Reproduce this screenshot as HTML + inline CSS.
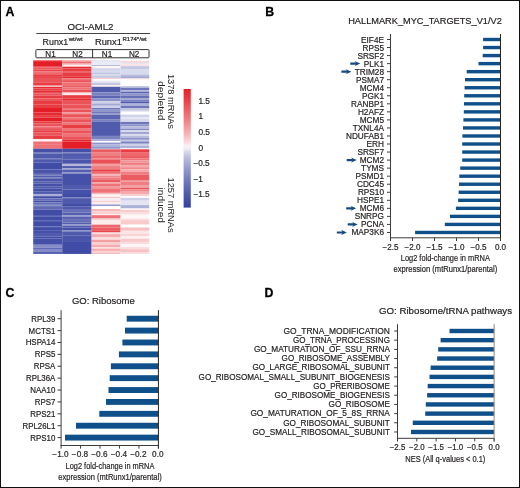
<!DOCTYPE html>
<html><head><meta charset="utf-8"><style>
html,body{margin:0;padding:0;background:#fff;}
body{width:520px;height:488px;overflow:hidden;}
svg{display:block;font-family:"Liberation Sans",sans-serif;will-change:transform;}
</style></head><body>
<svg width="520" height="488" viewBox="0 0 520 488">
<rect x="0" y="0" width="520" height="488" fill="#fff"/>
<text x="5.60" y="15.70" font-size="12.3" text-anchor="start" font-weight="bold" fill="#000" stroke="#000" stroke-width="0.3">A</text>
<text x="90.50" y="29.80" font-size="9.9" text-anchor="middle" font-weight="normal" fill="#231f20" stroke="#231f20" stroke-width="0.2" textLength="46.00" lengthAdjust="spacingAndGlyphs">OCI-AML2</text>
<line x1="36.30" y1="33.50" x2="150.20" y2="33.50" stroke="#444" stroke-width="1"/>
<text x="42.60" y="44.80" font-size="9.9" text-anchor="start" font-weight="normal" fill="#231f20" stroke="#231f20" stroke-width="0.2" textLength="25.60" lengthAdjust="spacingAndGlyphs">Runx1</text>
<text x="68.70" y="41.40" font-size="5.2" text-anchor="start" font-weight="normal" fill="#231f20" stroke="#231f20" stroke-width="0.2" textLength="14.00" lengthAdjust="spacingAndGlyphs">wt/wt</text>
<text x="94.90" y="44.80" font-size="9.9" text-anchor="start" font-weight="normal" fill="#231f20" stroke="#231f20" stroke-width="0.2" textLength="27.00" lengthAdjust="spacingAndGlyphs">Runx1</text>
<text x="122.50" y="41.40" font-size="5.2" text-anchor="start" font-weight="normal" fill="#231f20" stroke="#231f20" stroke-width="0.2" textLength="24.30" lengthAdjust="spacingAndGlyphs">R174*/wt</text>
<rect x="35.9" y="49.6" width="113.1" height="8.2" rx="0.8" fill="none" stroke="#333" stroke-width="1"/>
<line x1="92.60" y1="49.60" x2="92.60" y2="57.80" stroke="#333" stroke-width="1"/>
<text x="50.50" y="57.10" font-size="8.6" text-anchor="middle" font-weight="normal" fill="#231f20" stroke="#231f20" stroke-width="0.2" textLength="10.44" lengthAdjust="spacingAndGlyphs">N1</text>
<text x="77.50" y="57.10" font-size="8.6" text-anchor="middle" font-weight="normal" fill="#231f20" stroke="#231f20" stroke-width="0.2" textLength="10.44" lengthAdjust="spacingAndGlyphs">N2</text>
<text x="107.00" y="57.10" font-size="8.6" text-anchor="middle" font-weight="normal" fill="#231f20" stroke="#231f20" stroke-width="0.2" textLength="10.44" lengthAdjust="spacingAndGlyphs">N1</text>
<text x="134.20" y="57.10" font-size="8.6" text-anchor="middle" font-weight="normal" fill="#231f20" stroke="#231f20" stroke-width="0.2" textLength="10.44" lengthAdjust="spacingAndGlyphs">N2</text>
<rect x="33.20" y="60.30" width="29.00" height="0.84" fill="#e83c43"/>
<rect x="33.20" y="61.12" width="29.00" height="5.04" fill="#e41e26"/>
<rect x="33.20" y="66.14" width="29.00" height="1.14" fill="#e83c43"/>
<rect x="33.20" y="67.26" width="29.00" height="1.69" fill="#ea5359"/>
<rect x="33.20" y="68.93" width="29.00" height="1.14" fill="#ee7176"/>
<rect x="33.20" y="70.05" width="29.00" height="1.14" fill="#e83c43"/>
<rect x="33.20" y="71.16" width="29.00" height="2.25" fill="#ee7176"/>
<rect x="33.20" y="73.40" width="29.00" height="1.14" fill="#e52a31"/>
<rect x="33.20" y="74.51" width="29.00" height="1.69" fill="#e83c43"/>
<rect x="33.20" y="76.19" width="29.00" height="1.69" fill="#e52a31"/>
<rect x="33.20" y="77.86" width="29.00" height="4.49" fill="#ea5359"/>
<rect x="33.20" y="82.33" width="29.00" height="1.69" fill="#e83c43"/>
<rect x="33.20" y="84.00" width="29.00" height="1.69" fill="#e83c43"/>
<rect x="33.20" y="85.67" width="29.00" height="1.14" fill="#fbdbdd"/>
<rect x="33.20" y="86.79" width="29.00" height="1.69" fill="#e52a31"/>
<rect x="33.20" y="88.47" width="29.00" height="2.25" fill="#e83c43"/>
<rect x="33.20" y="90.70" width="29.00" height="1.69" fill="#e52a31"/>
<rect x="33.20" y="92.37" width="29.00" height="1.14" fill="#e41e26"/>
<rect x="33.20" y="93.49" width="29.00" height="2.25" fill="#ea5359"/>
<rect x="33.20" y="95.72" width="29.00" height="2.81" fill="#e83c43"/>
<rect x="33.20" y="98.51" width="29.00" height="1.69" fill="#ea5359"/>
<rect x="33.20" y="100.19" width="29.00" height="4.49" fill="#e83c43"/>
<rect x="33.20" y="104.65" width="29.00" height="3.37" fill="#e83c43"/>
<rect x="33.20" y="108.00" width="29.00" height="4.49" fill="#e41e26"/>
<rect x="33.20" y="112.47" width="29.00" height="3.37" fill="#e52a31"/>
<rect x="33.20" y="115.81" width="29.00" height="1.69" fill="#e83c43"/>
<rect x="33.20" y="117.49" width="29.00" height="3.93" fill="#e41e26"/>
<rect x="33.20" y="121.40" width="29.00" height="2.25" fill="#e83c43"/>
<rect x="33.20" y="123.63" width="29.00" height="2.81" fill="#ea5359"/>
<rect x="33.20" y="126.42" width="29.00" height="1.69" fill="#ee7176"/>
<rect x="33.20" y="128.09" width="29.00" height="2.81" fill="#ea5359"/>
<rect x="33.20" y="130.88" width="29.00" height="1.69" fill="#e83c43"/>
<rect x="33.20" y="132.56" width="29.00" height="2.81" fill="#ea5359"/>
<rect x="33.20" y="135.35" width="29.00" height="2.81" fill="#e83c43"/>
<rect x="33.20" y="138.14" width="29.00" height="1.14" fill="#e52a31"/>
<rect x="33.20" y="139.26" width="29.00" height="2.25" fill="#fef3f4"/>
<rect x="33.20" y="141.49" width="29.00" height="3.37" fill="#ee7176"/>
<rect x="33.20" y="144.84" width="29.00" height="3.93" fill="#ee7176"/>
<rect x="33.20" y="148.74" width="29.00" height="3.37" fill="#4550a8"/>
<rect x="33.20" y="152.09" width="29.00" height="1.69" fill="#6d76bb"/>
<rect x="33.20" y="153.77" width="29.00" height="2.25" fill="#4f5aad"/>
<rect x="33.20" y="156.00" width="29.00" height="2.25" fill="#4f5aad"/>
<rect x="33.20" y="158.23" width="29.00" height="1.69" fill="#6069b5"/>
<rect x="33.20" y="159.91" width="29.00" height="2.81" fill="#4f5aad"/>
<rect x="33.20" y="162.70" width="29.00" height="6.72" fill="#414ca6"/>
<rect x="33.20" y="169.40" width="29.00" height="4.49" fill="#4a55aa"/>
<rect x="33.20" y="173.86" width="29.00" height="1.69" fill="#6d76bb"/>
<rect x="33.20" y="175.53" width="29.00" height="1.69" fill="#4f5aad"/>
<rect x="33.20" y="177.21" width="29.00" height="1.14" fill="#6d76bb"/>
<rect x="33.20" y="178.33" width="29.00" height="3.37" fill="#4a55aa"/>
<rect x="33.20" y="181.67" width="29.00" height="1.69" fill="#555faf"/>
<rect x="33.20" y="183.35" width="29.00" height="3.37" fill="#4550a8"/>
<rect x="33.20" y="186.70" width="29.00" height="1.69" fill="#4f5aad"/>
<rect x="33.20" y="188.37" width="29.00" height="3.37" fill="#4550a8"/>
<rect x="33.20" y="191.72" width="29.00" height="2.25" fill="#4f5aad"/>
<rect x="33.20" y="193.95" width="29.00" height="2.25" fill="#a9aed7"/>
<rect x="33.20" y="196.19" width="29.00" height="2.25" fill="#414ca6"/>
<rect x="33.20" y="198.42" width="29.00" height="2.25" fill="#6069b5"/>
<rect x="33.20" y="200.65" width="29.00" height="1.69" fill="#4550a8"/>
<rect x="33.20" y="202.33" width="29.00" height="1.69" fill="#666fb7"/>
<rect x="33.20" y="204.00" width="29.00" height="1.69" fill="#7c84c2"/>
<rect x="33.20" y="205.67" width="29.00" height="1.14" fill="#555faf"/>
<rect x="33.20" y="206.79" width="29.00" height="2.81" fill="#6069b5"/>
<rect x="33.20" y="209.58" width="29.00" height="5.60" fill="#414ca6"/>
<rect x="33.20" y="215.16" width="29.00" height="1.14" fill="#414ca6"/>
<rect x="33.20" y="216.28" width="29.00" height="4.48" fill="#414ca6"/>
<rect x="33.20" y="220.74" width="29.00" height="1.14" fill="#414ca6"/>
<rect x="33.20" y="221.86" width="29.00" height="4.48" fill="#414ca6"/>
<rect x="33.20" y="226.32" width="29.00" height="1.69" fill="#4f5aad"/>
<rect x="33.20" y="228.00" width="29.00" height="2.81" fill="#414ca6"/>
<rect x="33.20" y="230.79" width="29.00" height="2.25" fill="#4550a8"/>
<rect x="33.20" y="233.02" width="29.00" height="3.37" fill="#4f5aad"/>
<rect x="33.20" y="236.37" width="29.00" height="2.25" fill="#414ca6"/>
<rect x="33.20" y="238.60" width="29.00" height="6.16" fill="#4550a8"/>
<rect x="33.20" y="244.74" width="29.00" height="2.81" fill="#858cc6"/>
<rect x="33.20" y="247.53" width="29.00" height="2.25" fill="#6069b5"/>
<rect x="33.20" y="249.76" width="29.00" height="1.69" fill="#858cc6"/>
<rect x="33.20" y="251.43" width="29.00" height="2.49" fill="#555faf"/>
<rect x="62.20" y="60.30" width="29.40" height="1.39" fill="#f29498"/>
<rect x="62.20" y="61.67" width="29.40" height="1.69" fill="#ee7176"/>
<rect x="62.20" y="63.35" width="29.40" height="1.36" fill="#f29498"/>
<rect x="62.20" y="64.69" width="29.40" height="2.03" fill="#fdedee"/>
<rect x="62.20" y="66.70" width="29.40" height="1.69" fill="#e52a31"/>
<rect x="62.20" y="68.37" width="29.40" height="2.81" fill="#e83c43"/>
<rect x="62.20" y="71.16" width="29.40" height="1.14" fill="#ea5359"/>
<rect x="62.20" y="72.28" width="29.40" height="4.49" fill="#e83c43"/>
<rect x="62.20" y="76.74" width="29.40" height="1.69" fill="#e52a31"/>
<rect x="62.20" y="78.42" width="29.40" height="1.69" fill="#ee7176"/>
<rect x="62.20" y="80.09" width="29.40" height="2.25" fill="#ea5359"/>
<rect x="62.20" y="82.33" width="29.40" height="3.93" fill="#ee7176"/>
<rect x="62.20" y="86.23" width="29.40" height="1.14" fill="#e83c43"/>
<rect x="62.20" y="87.35" width="29.40" height="2.25" fill="#ee7176"/>
<rect x="62.20" y="89.58" width="29.40" height="2.81" fill="#ea5359"/>
<rect x="62.20" y="92.37" width="29.40" height="1.14" fill="#f6b8ba"/>
<rect x="62.20" y="93.49" width="29.40" height="1.69" fill="#fdedee"/>
<rect x="62.20" y="95.16" width="29.40" height="3.37" fill="#e83c43"/>
<rect x="62.20" y="98.51" width="29.40" height="2.25" fill="#e52a31"/>
<rect x="62.20" y="100.74" width="29.40" height="3.93" fill="#ea5359"/>
<rect x="62.20" y="104.65" width="29.40" height="3.37" fill="#ea5359"/>
<rect x="62.20" y="108.00" width="29.40" height="1.69" fill="#ee7176"/>
<rect x="62.20" y="109.67" width="29.40" height="2.81" fill="#ea5359"/>
<rect x="62.20" y="112.47" width="29.40" height="1.69" fill="#f29498"/>
<rect x="62.20" y="114.14" width="29.40" height="3.37" fill="#ea5359"/>
<rect x="62.20" y="117.49" width="29.40" height="1.69" fill="#ee7176"/>
<rect x="62.20" y="119.16" width="29.40" height="3.37" fill="#ea5359"/>
<rect x="62.20" y="122.51" width="29.40" height="2.25" fill="#ee7176"/>
<rect x="62.20" y="124.74" width="29.40" height="3.37" fill="#e83c43"/>
<rect x="62.20" y="128.09" width="29.40" height="2.25" fill="#ee7176"/>
<rect x="62.20" y="130.33" width="29.40" height="3.37" fill="#ea5359"/>
<rect x="62.20" y="133.67" width="29.40" height="3.37" fill="#ee7176"/>
<rect x="62.20" y="137.02" width="29.40" height="2.81" fill="#ea5359"/>
<rect x="62.20" y="139.81" width="29.40" height="1.69" fill="#e52a31"/>
<rect x="62.20" y="141.49" width="29.40" height="7.28" fill="#e41e26"/>
<rect x="62.20" y="148.74" width="29.40" height="3.37" fill="#4550a8"/>
<rect x="62.20" y="152.09" width="29.40" height="1.14" fill="#7c84c2"/>
<rect x="62.20" y="153.21" width="29.40" height="2.81" fill="#4f5aad"/>
<rect x="62.20" y="156.00" width="29.40" height="3.37" fill="#555faf"/>
<rect x="62.20" y="159.35" width="29.40" height="4.49" fill="#4a55aa"/>
<rect x="62.20" y="163.81" width="29.40" height="2.25" fill="#b2b6db"/>
<rect x="62.20" y="166.05" width="29.40" height="2.25" fill="#4f5aad"/>
<rect x="62.20" y="168.28" width="29.40" height="1.36" fill="#9aa0d0"/>
<rect x="62.20" y="169.62" width="29.40" height="2.59" fill="#555faf"/>
<rect x="62.20" y="172.19" width="29.40" height="1.69" fill="#858cc6"/>
<rect x="62.20" y="173.86" width="29.40" height="11.18" fill="#4550a8"/>
<rect x="62.20" y="185.02" width="29.40" height="4.49" fill="#4f5aad"/>
<rect x="62.20" y="189.49" width="29.40" height="4.49" fill="#4550a8"/>
<rect x="62.20" y="193.95" width="29.40" height="3.37" fill="#414ca6"/>
<rect x="62.20" y="197.30" width="29.40" height="1.69" fill="#666fb7"/>
<rect x="62.20" y="198.98" width="29.40" height="5.04" fill="#4f5aad"/>
<rect x="62.20" y="204.00" width="29.40" height="2.25" fill="#414ca6"/>
<rect x="62.20" y="206.23" width="29.40" height="2.81" fill="#4f5aad"/>
<rect x="62.20" y="209.02" width="29.40" height="3.37" fill="#666fb7"/>
<rect x="62.20" y="212.37" width="29.40" height="2.81" fill="#555faf"/>
<rect x="62.20" y="215.16" width="29.40" height="1.69" fill="#8f95ca"/>
<rect x="62.20" y="216.83" width="29.40" height="2.25" fill="#5a64b2"/>
<rect x="62.20" y="219.07" width="29.40" height="3.37" fill="#666fb7"/>
<rect x="62.20" y="222.42" width="29.40" height="1.69" fill="#555faf"/>
<rect x="62.20" y="224.09" width="29.40" height="1.69" fill="#8f95ca"/>
<rect x="62.20" y="225.76" width="29.40" height="1.69" fill="#4f5aad"/>
<rect x="62.20" y="227.44" width="29.40" height="2.81" fill="#4550a8"/>
<rect x="62.20" y="230.23" width="29.40" height="1.69" fill="#7c84c2"/>
<rect x="62.20" y="231.90" width="29.40" height="3.37" fill="#4f5aad"/>
<rect x="62.20" y="235.25" width="29.40" height="6.72" fill="#4a55aa"/>
<rect x="62.20" y="241.95" width="29.40" height="11.97" fill="#414ca6"/>
<rect x="91.60" y="60.30" width="29.00" height="1.39" fill="#d8dbed"/>
<rect x="91.60" y="61.67" width="29.00" height="3.37" fill="#eaecf5"/>
<rect x="91.60" y="65.02" width="29.00" height="1.14" fill="#b7bbdd"/>
<rect x="91.60" y="66.14" width="29.00" height="2.25" fill="#fef5f5"/>
<rect x="91.60" y="68.37" width="29.00" height="1.69" fill="#cdd0e8"/>
<rect x="91.60" y="70.05" width="29.00" height="2.25" fill="#d8dbed"/>
<rect x="91.60" y="72.28" width="29.00" height="1.69" fill="#c2c6e2"/>
<rect x="91.60" y="73.95" width="29.00" height="1.69" fill="#d8dbed"/>
<rect x="91.60" y="75.63" width="29.00" height="2.25" fill="#c2c6e2"/>
<rect x="91.60" y="77.86" width="29.00" height="1.14" fill="#f9d0d2"/>
<rect x="91.60" y="78.98" width="29.00" height="1.69" fill="#ffffff"/>
<rect x="91.60" y="80.65" width="29.00" height="2.25" fill="#e4e6f2"/>
<rect x="91.60" y="82.88" width="29.00" height="2.25" fill="#c2c6e2"/>
<rect x="91.60" y="85.12" width="29.00" height="1.69" fill="#fdeded"/>
<rect x="91.60" y="86.79" width="29.00" height="5.60" fill="#515bae"/>
<rect x="91.60" y="92.37" width="29.00" height="3.37" fill="#7981c0"/>
<rect x="91.60" y="95.72" width="29.00" height="2.81" fill="#5b65b2"/>
<rect x="91.60" y="98.51" width="29.00" height="2.81" fill="#8d94ca"/>
<rect x="91.60" y="101.30" width="29.00" height="2.25" fill="#cdd0e8"/>
<rect x="91.60" y="103.53" width="29.00" height="2.25" fill="#a2a7d3"/>
<rect x="91.60" y="105.77" width="29.00" height="2.25" fill="#cdd0e8"/>
<rect x="91.60" y="108.00" width="29.00" height="1.69" fill="#6f77bb"/>
<rect x="91.60" y="109.67" width="29.00" height="1.69" fill="#8d94ca"/>
<rect x="91.60" y="111.35" width="29.00" height="1.69" fill="#6f77bb"/>
<rect x="91.60" y="113.02" width="29.00" height="1.69" fill="#979ecf"/>
<rect x="91.60" y="114.70" width="29.00" height="4.49" fill="#5b65b2"/>
<rect x="91.60" y="119.16" width="29.00" height="2.25" fill="#7981c0"/>
<rect x="91.60" y="121.40" width="29.00" height="14.53" fill="#515bae"/>
<rect x="91.60" y="135.91" width="29.00" height="3.37" fill="#7981c0"/>
<rect x="91.60" y="139.26" width="29.00" height="1.69" fill="#a2a7d3"/>
<rect x="91.60" y="140.93" width="29.00" height="1.69" fill="#ffffff"/>
<rect x="91.60" y="142.60" width="29.00" height="1.69" fill="#8d94ca"/>
<rect x="91.60" y="144.28" width="29.00" height="2.25" fill="#acb1d8"/>
<rect x="91.60" y="146.51" width="29.00" height="2.25" fill="#8d94ca"/>
<rect x="91.60" y="148.74" width="29.00" height="0.58" fill="#c2c6e2"/>
<rect x="91.60" y="149.30" width="29.00" height="3.37" fill="#eb5c62"/>
<rect x="91.60" y="152.65" width="29.00" height="3.37" fill="#ef7d81"/>
<rect x="91.60" y="156.00" width="29.00" height="2.25" fill="#ed676c"/>
<rect x="91.60" y="158.23" width="29.00" height="1.69" fill="#ef7d81"/>
<rect x="91.60" y="159.91" width="29.00" height="3.93" fill="#ea5158"/>
<rect x="91.60" y="163.81" width="29.00" height="2.25" fill="#f39fa2"/>
<rect x="91.60" y="166.05" width="29.00" height="3.37" fill="#ef7d81"/>
<rect x="91.60" y="169.40" width="29.00" height="1.69" fill="#e83d43"/>
<rect x="91.60" y="171.07" width="29.00" height="2.81" fill="#ed676c"/>
<rect x="91.60" y="173.86" width="29.00" height="1.69" fill="#f6b7b9"/>
<rect x="91.60" y="175.53" width="29.00" height="2.25" fill="#f1888c"/>
<rect x="91.60" y="177.77" width="29.00" height="2.25" fill="#ef7d81"/>
<rect x="91.60" y="180.00" width="29.00" height="2.25" fill="#eb5c62"/>
<rect x="91.60" y="182.23" width="29.00" height="1.69" fill="#f39fa2"/>
<rect x="91.60" y="183.91" width="29.00" height="2.25" fill="#ee7277"/>
<rect x="91.60" y="186.14" width="29.00" height="2.25" fill="#f29397"/>
<rect x="91.60" y="188.37" width="29.00" height="4.49" fill="#ee7277"/>
<rect x="91.60" y="192.84" width="29.00" height="1.69" fill="#f6b7b9"/>
<rect x="91.60" y="194.51" width="29.00" height="2.25" fill="#fef5f5"/>
<rect x="91.60" y="196.74" width="29.00" height="1.69" fill="#f8c3c5"/>
<rect x="91.60" y="198.42" width="29.00" height="2.25" fill="#f1f2f8"/>
<rect x="91.60" y="200.65" width="29.00" height="1.69" fill="#f9d0d2"/>
<rect x="91.60" y="202.33" width="29.00" height="1.69" fill="#fdeded"/>
<rect x="91.60" y="204.00" width="29.00" height="1.14" fill="#c2c6e2"/>
<rect x="91.60" y="205.12" width="29.00" height="1.14" fill="#8d94ca"/>
<rect x="91.60" y="206.23" width="29.00" height="2.81" fill="#ffffff"/>
<rect x="91.60" y="209.02" width="29.00" height="2.25" fill="#f6b7b9"/>
<rect x="91.60" y="211.25" width="29.00" height="2.81" fill="#f9d0d2"/>
<rect x="91.60" y="214.04" width="29.00" height="1.14" fill="#fdeded"/>
<rect x="91.60" y="215.16" width="29.00" height="3.37" fill="#ee7277"/>
<rect x="91.60" y="218.51" width="29.00" height="1.69" fill="#f9d0d2"/>
<rect x="91.60" y="220.18" width="29.00" height="4.48" fill="#fdeded"/>
<rect x="91.60" y="224.65" width="29.00" height="2.81" fill="#ed676c"/>
<rect x="91.60" y="227.44" width="29.00" height="2.81" fill="#eb5c62"/>
<rect x="91.60" y="230.23" width="29.00" height="2.25" fill="#e9474e"/>
<rect x="91.60" y="232.46" width="29.00" height="1.69" fill="#fbdedf"/>
<rect x="91.60" y="234.13" width="29.00" height="3.37" fill="#f5abae"/>
<rect x="91.60" y="237.48" width="29.00" height="2.25" fill="#fbdedf"/>
<rect x="91.60" y="239.71" width="29.00" height="2.81" fill="#f39fa2"/>
<rect x="91.60" y="242.50" width="29.00" height="2.25" fill="#f9d0d2"/>
<rect x="91.60" y="244.74" width="29.00" height="2.25" fill="#f5abae"/>
<rect x="91.60" y="246.97" width="29.00" height="1.69" fill="#fbdedf"/>
<rect x="91.60" y="248.64" width="29.00" height="2.25" fill="#f5abae"/>
<rect x="91.60" y="250.88" width="29.00" height="1.69" fill="#f9d0d2"/>
<rect x="91.60" y="252.55" width="29.00" height="1.37" fill="#f6b7b9"/>
<rect x="120.60" y="60.30" width="28.60" height="0.84" fill="#f1f2f8"/>
<rect x="120.60" y="61.12" width="28.60" height="1.69" fill="#f9d0d2"/>
<rect x="120.60" y="62.79" width="28.60" height="1.69" fill="#e4e6f2"/>
<rect x="120.60" y="64.47" width="28.60" height="1.69" fill="#fbdedf"/>
<rect x="120.60" y="66.14" width="28.60" height="2.81" fill="#c2c6e2"/>
<rect x="120.60" y="68.93" width="28.60" height="5.60" fill="#d8dbed"/>
<rect x="120.60" y="74.51" width="28.60" height="1.69" fill="#b7bbdd"/>
<rect x="120.60" y="76.19" width="28.60" height="2.25" fill="#a2a7d3"/>
<rect x="120.60" y="78.42" width="28.60" height="1.14" fill="#fbdedf"/>
<rect x="120.60" y="79.53" width="28.60" height="6.72" fill="#ffffff"/>
<rect x="120.60" y="86.23" width="28.60" height="1.69" fill="#b7bbdd"/>
<rect x="120.60" y="87.91" width="28.60" height="2.25" fill="#6f77bb"/>
<rect x="120.60" y="90.14" width="28.60" height="1.69" fill="#acb1d8"/>
<rect x="120.60" y="91.81" width="28.60" height="1.69" fill="#5b65b2"/>
<rect x="120.60" y="93.49" width="28.60" height="2.25" fill="#8d94ca"/>
<rect x="120.60" y="95.72" width="28.60" height="2.25" fill="#656eb7"/>
<rect x="120.60" y="97.95" width="28.60" height="1.69" fill="#a2a7d3"/>
<rect x="120.60" y="99.63" width="28.60" height="2.25" fill="#7981c0"/>
<rect x="120.60" y="101.86" width="28.60" height="1.69" fill="#515bae"/>
<rect x="120.60" y="103.53" width="28.60" height="2.25" fill="#acb1d8"/>
<rect x="120.60" y="105.77" width="28.60" height="2.25" fill="#6f77bb"/>
<rect x="120.60" y="108.00" width="28.60" height="2.81" fill="#c2c6e2"/>
<rect x="120.60" y="110.79" width="28.60" height="1.14" fill="#e4e6f2"/>
<rect x="120.60" y="111.91" width="28.60" height="2.81" fill="#ffffff"/>
<rect x="120.60" y="114.70" width="28.60" height="2.25" fill="#cdd0e8"/>
<rect x="120.60" y="116.93" width="28.60" height="1.69" fill="#e4e6f2"/>
<rect x="120.60" y="118.60" width="28.60" height="3.37" fill="#d8dbed"/>
<rect x="120.60" y="121.95" width="28.60" height="2.25" fill="#6f77bb"/>
<rect x="120.60" y="124.19" width="28.60" height="2.25" fill="#8d94ca"/>
<rect x="120.60" y="126.42" width="28.60" height="2.25" fill="#b7bbdd"/>
<rect x="120.60" y="128.65" width="28.60" height="1.69" fill="#838ac5"/>
<rect x="120.60" y="130.33" width="28.60" height="1.69" fill="#d8dbed"/>
<rect x="120.60" y="132.00" width="28.60" height="2.25" fill="#a2a7d3"/>
<rect x="120.60" y="134.23" width="28.60" height="1.69" fill="#d8dbed"/>
<rect x="120.60" y="135.91" width="28.60" height="1.69" fill="#b7bbdd"/>
<rect x="120.60" y="137.58" width="28.60" height="2.25" fill="#8d94ca"/>
<rect x="120.60" y="139.81" width="28.60" height="1.69" fill="#c2c6e2"/>
<rect x="120.60" y="141.49" width="28.60" height="2.25" fill="#7981c0"/>
<rect x="120.60" y="143.72" width="28.60" height="2.25" fill="#cdd0e8"/>
<rect x="120.60" y="145.95" width="28.60" height="2.25" fill="#acb1d8"/>
<rect x="120.60" y="148.19" width="28.60" height="1.14" fill="#f1f2f8"/>
<rect x="120.60" y="149.30" width="28.60" height="3.37" fill="#e83d43"/>
<rect x="120.60" y="152.65" width="28.60" height="3.37" fill="#ed676c"/>
<rect x="120.60" y="156.00" width="28.60" height="2.25" fill="#eb5c62"/>
<rect x="120.60" y="158.23" width="28.60" height="2.25" fill="#ee7277"/>
<rect x="120.60" y="160.47" width="28.60" height="2.25" fill="#f29397"/>
<rect x="120.60" y="162.70" width="28.60" height="2.25" fill="#ef7d81"/>
<rect x="120.60" y="164.93" width="28.60" height="2.25" fill="#f5abae"/>
<rect x="120.60" y="167.16" width="28.60" height="2.25" fill="#f1888c"/>
<rect x="120.60" y="169.40" width="28.60" height="2.25" fill="#f5abae"/>
<rect x="120.60" y="171.63" width="28.60" height="2.81" fill="#ef7d81"/>
<rect x="120.60" y="174.42" width="28.60" height="5.60" fill="#eb5c62"/>
<rect x="120.60" y="180.00" width="28.60" height="1.69" fill="#f29397"/>
<rect x="120.60" y="181.67" width="28.60" height="3.37" fill="#ef7d81"/>
<rect x="120.60" y="185.02" width="28.60" height="2.81" fill="#f39fa2"/>
<rect x="120.60" y="187.81" width="28.60" height="1.69" fill="#ea5158"/>
<rect x="120.60" y="189.49" width="28.60" height="2.25" fill="#f1888c"/>
<rect x="120.60" y="191.72" width="28.60" height="2.81" fill="#f5abae"/>
<rect x="120.60" y="194.51" width="28.60" height="1.69" fill="#f9d0d2"/>
<rect x="120.60" y="196.19" width="28.60" height="1.69" fill="#ffffff"/>
<rect x="120.60" y="197.86" width="28.60" height="2.81" fill="#cdd0e8"/>
<rect x="120.60" y="200.65" width="28.60" height="3.37" fill="#e4e6f2"/>
<rect x="120.60" y="204.00" width="28.60" height="1.14" fill="#e4e6f2"/>
<rect x="120.60" y="205.12" width="28.60" height="3.37" fill="#acb1d8"/>
<rect x="120.60" y="208.46" width="28.60" height="1.69" fill="#fdf1f2"/>
<rect x="120.60" y="210.14" width="28.60" height="2.25" fill="#f9cacb"/>
<rect x="120.60" y="212.37" width="28.60" height="2.25" fill="#fbdcde"/>
<rect x="120.60" y="214.60" width="28.60" height="3.93" fill="#fef7f8"/>
<rect x="120.60" y="218.51" width="28.60" height="1.69" fill="#fbdcde"/>
<rect x="120.60" y="220.18" width="28.60" height="4.48" fill="#f9cacb"/>
<rect x="120.60" y="224.65" width="28.60" height="2.81" fill="#ffffff"/>
<rect x="120.60" y="227.44" width="28.60" height="3.37" fill="#f8c1c3"/>
<rect x="120.60" y="230.79" width="28.60" height="2.81" fill="#fce6e7"/>
<rect x="120.60" y="233.58" width="28.60" height="2.81" fill="#fad3d4"/>
<rect x="120.60" y="236.37" width="28.60" height="2.25" fill="#fdf1f2"/>
<rect x="120.60" y="238.60" width="28.60" height="3.37" fill="#f9cacb"/>
<rect x="120.60" y="241.95" width="28.60" height="2.25" fill="#fbdcde"/>
<rect x="120.60" y="244.18" width="28.60" height="2.81" fill="#fef7f8"/>
<rect x="120.60" y="246.97" width="28.60" height="2.25" fill="#fbdcde"/>
<rect x="120.60" y="249.20" width="28.60" height="2.81" fill="#f8c1c3"/>
<rect x="120.60" y="251.99" width="28.60" height="1.93" fill="#fbdcde"/>
<defs><linearGradient id="cb" x1="0" y1="0" x2="0" y2="1">
<stop offset="0.000" stop-color="#e42129"/>
<stop offset="0.025" stop-color="#e52931"/>
<stop offset="0.050" stop-color="#e63239"/>
<stop offset="0.075" stop-color="#e73b42"/>
<stop offset="0.100" stop-color="#e8434a"/>
<stop offset="0.125" stop-color="#ea4d53"/>
<stop offset="0.150" stop-color="#eb565c"/>
<stop offset="0.175" stop-color="#ec5f65"/>
<stop offset="0.200" stop-color="#ed696e"/>
<stop offset="0.225" stop-color="#ee7277"/>
<stop offset="0.250" stop-color="#ef7c81"/>
<stop offset="0.275" stop-color="#f1878b"/>
<stop offset="0.300" stop-color="#f29195"/>
<stop offset="0.325" stop-color="#f39ca0"/>
<stop offset="0.350" stop-color="#f4a7ab"/>
<stop offset="0.375" stop-color="#f6b3b6"/>
<stop offset="0.400" stop-color="#f7c0c2"/>
<stop offset="0.425" stop-color="#f9cdcf"/>
<stop offset="0.450" stop-color="#fbdcdd"/>
<stop offset="0.475" stop-color="#fdedee"/>
<stop offset="0.500" stop-color="#eff0f8"/>
<stop offset="0.525" stop-color="#d9dced"/>
<stop offset="0.550" stop-color="#cacde6"/>
<stop offset="0.575" stop-color="#bcc0e0"/>
<stop offset="0.600" stop-color="#b1b5da"/>
<stop offset="0.625" stop-color="#a6abd5"/>
<stop offset="0.650" stop-color="#9ca2d1"/>
<stop offset="0.675" stop-color="#9299cc"/>
<stop offset="0.700" stop-color="#8990c8"/>
<stop offset="0.725" stop-color="#8188c4"/>
<stop offset="0.750" stop-color="#7880c0"/>
<stop offset="0.775" stop-color="#7079bc"/>
<stop offset="0.800" stop-color="#6972b9"/>
<stop offset="0.825" stop-color="#616bb5"/>
<stop offset="0.850" stop-color="#5a64b2"/>
<stop offset="0.875" stop-color="#535dae"/>
<stop offset="0.900" stop-color="#4c57ab"/>
<stop offset="0.925" stop-color="#4550a8"/>
<stop offset="0.950" stop-color="#3f4aa5"/>
<stop offset="0.975" stop-color="#3844a2"/>
<stop offset="1.000" stop-color="#3440a0"/>
</linearGradient></defs>
<rect x="183.60" y="89.00" width="7.20" height="118.60" fill="url(#cb)"/>
<text x="198.40" y="103.80" font-size="8.5" text-anchor="start" font-weight="normal" fill="#231f20" stroke="#231f20" stroke-width="0.2" textLength="11.46" lengthAdjust="spacingAndGlyphs">1.5</text>
<text x="198.40" y="119.30" font-size="8.5" text-anchor="start" font-weight="normal" fill="#231f20" stroke="#231f20" stroke-width="0.2" textLength="4.59" lengthAdjust="spacingAndGlyphs">1</text>
<text x="198.40" y="134.90" font-size="8.5" text-anchor="start" font-weight="normal" fill="#231f20" stroke="#231f20" stroke-width="0.2" textLength="11.46" lengthAdjust="spacingAndGlyphs">0.5</text>
<text x="198.40" y="150.50" font-size="8.5" text-anchor="start" font-weight="normal" fill="#231f20" stroke="#231f20" stroke-width="0.2" textLength="4.59" lengthAdjust="spacingAndGlyphs">0</text>
<text x="193.40" y="166.10" font-size="8.5" text-anchor="start" font-weight="normal" fill="#231f20" stroke="#231f20" stroke-width="0.2" textLength="16.28" lengthAdjust="spacingAndGlyphs">&#8722;0.5</text>
<text x="193.40" y="181.70" font-size="8.5" text-anchor="start" font-weight="normal" fill="#231f20" stroke="#231f20" stroke-width="0.2" textLength="9.40" lengthAdjust="spacingAndGlyphs">&#8722;1</text>
<text x="193.40" y="197.30" font-size="8.5" text-anchor="start" font-weight="normal" fill="#231f20" stroke="#231f20" stroke-width="0.2" textLength="16.28" lengthAdjust="spacingAndGlyphs">&#8722;1.5</text>
<text transform="translate(168.40,101.45) rotate(90)" x="0" y="0" font-size="9.3" text-anchor="middle" fill="#231f20" textLength="55.10" lengthAdjust="spacingAndGlyphs">1378 mRNAs</text>
<text transform="translate(158.10,100.80) rotate(90)" x="0" y="0" font-size="9.3" text-anchor="middle" fill="#231f20" textLength="39.40" lengthAdjust="spacingAndGlyphs">depleted</text>
<text transform="translate(168.40,205.05) rotate(90)" x="0" y="0" font-size="9.3" text-anchor="middle" fill="#231f20" textLength="55.10" lengthAdjust="spacingAndGlyphs">1257 mRNAs</text>
<text transform="translate(158.10,205.20) rotate(90)" x="0" y="0" font-size="9.3" text-anchor="middle" fill="#231f20" textLength="35.40" lengthAdjust="spacingAndGlyphs">induced</text>
<text x="265.30" y="15.70" font-size="12.3" text-anchor="start" font-weight="bold" fill="#000" stroke="#000" stroke-width="0.3">B</text>
<text x="348.20" y="23.70" font-size="9.2" text-anchor="start" font-weight="normal" fill="#231f20" stroke="#231f20" stroke-width="0.2" textLength="153.60" lengthAdjust="spacingAndGlyphs">HALLMARK_MYC_TARGETS_V1/V2</text>
<rect x="483.10" y="37.80" width="17.40" height="3.40" fill="#10508a"/>
<line x1="387.00" y1="39.50" x2="390.50" y2="39.50" stroke="#3c3c3c" stroke-width="1"/>
<text x="384.00" y="42.50" font-size="8.5" text-anchor="end" font-weight="normal" fill="#231f20" stroke="#231f20" stroke-width="0.2" textLength="22.91" lengthAdjust="spacingAndGlyphs">EIF4E</text>
<rect x="483.10" y="45.84" width="17.40" height="3.40" fill="#10508a"/>
<line x1="387.00" y1="47.54" x2="390.50" y2="47.54" stroke="#3c3c3c" stroke-width="1"/>
<text x="384.00" y="50.54" font-size="8.5" text-anchor="end" font-weight="normal" fill="#231f20" stroke="#231f20" stroke-width="0.2" textLength="21.54" lengthAdjust="spacingAndGlyphs">RPS5</text>
<rect x="482.70" y="53.88" width="17.80" height="3.40" fill="#10508a"/>
<line x1="387.00" y1="55.58" x2="390.50" y2="55.58" stroke="#3c3c3c" stroke-width="1"/>
<text x="384.00" y="58.58" font-size="8.5" text-anchor="end" font-weight="normal" fill="#231f20" stroke="#231f20" stroke-width="0.2" textLength="26.58" lengthAdjust="spacingAndGlyphs">SRSF2</text>
<rect x="478.50" y="61.92" width="22.00" height="3.40" fill="#10508a"/>
<line x1="387.00" y1="63.62" x2="390.50" y2="63.62" stroke="#3c3c3c" stroke-width="1"/>
<text x="384.00" y="66.62" font-size="8.5" text-anchor="end" font-weight="normal" fill="#231f20" stroke="#231f20" stroke-width="0.2" textLength="20.17" lengthAdjust="spacingAndGlyphs">PLK1</text>
<path d="M350.30,62.57 L355.90,62.57 L354.50,60.92 L360.30,63.62 L354.50,66.32 L355.90,64.67 L350.30,64.67 Z" fill="#164a82"/>
<rect x="466.70" y="69.96" width="33.80" height="3.40" fill="#10508a"/>
<line x1="387.00" y1="71.66" x2="390.50" y2="71.66" stroke="#3c3c3c" stroke-width="1"/>
<text x="384.00" y="74.66" font-size="8.5" text-anchor="end" font-weight="normal" fill="#231f20" stroke="#231f20" stroke-width="0.2" textLength="29.32" lengthAdjust="spacingAndGlyphs">TRIM28</text>
<path d="M341.40,70.61 L347.00,70.61 L345.60,68.96 L351.40,71.66 L345.60,74.36 L347.00,72.71 L341.40,72.71 Z" fill="#164a82"/>
<rect x="465.00" y="78.00" width="35.50" height="3.40" fill="#10508a"/>
<line x1="387.00" y1="79.70" x2="390.50" y2="79.70" stroke="#3c3c3c" stroke-width="1"/>
<text x="384.00" y="82.70" font-size="8.5" text-anchor="end" font-weight="normal" fill="#231f20" stroke="#231f20" stroke-width="0.2" textLength="27.95" lengthAdjust="spacingAndGlyphs">PSMA7</text>
<rect x="464.60" y="86.04" width="35.90" height="3.40" fill="#10508a"/>
<line x1="387.00" y1="87.74" x2="390.50" y2="87.74" stroke="#3c3c3c" stroke-width="1"/>
<text x="384.00" y="90.74" font-size="8.5" text-anchor="end" font-weight="normal" fill="#231f20" stroke="#231f20" stroke-width="0.2" textLength="24.28" lengthAdjust="spacingAndGlyphs">MCM4</text>
<rect x="464.20" y="94.08" width="36.30" height="3.40" fill="#10508a"/>
<line x1="387.00" y1="95.78" x2="390.50" y2="95.78" stroke="#3c3c3c" stroke-width="1"/>
<text x="384.00" y="98.78" font-size="8.5" text-anchor="end" font-weight="normal" fill="#231f20" stroke="#231f20" stroke-width="0.2" textLength="22.00" lengthAdjust="spacingAndGlyphs">PGK1</text>
<rect x="464.00" y="102.12" width="36.50" height="3.40" fill="#10508a"/>
<line x1="387.00" y1="103.82" x2="390.50" y2="103.82" stroke="#3c3c3c" stroke-width="1"/>
<text x="384.00" y="106.82" font-size="8.5" text-anchor="end" font-weight="normal" fill="#231f20" stroke="#231f20" stroke-width="0.2" textLength="32.99" lengthAdjust="spacingAndGlyphs">RANBP1</text>
<rect x="463.80" y="110.16" width="36.70" height="3.40" fill="#10508a"/>
<line x1="387.00" y1="111.86" x2="390.50" y2="111.86" stroke="#3c3c3c" stroke-width="1"/>
<text x="384.00" y="114.86" font-size="8.5" text-anchor="end" font-weight="normal" fill="#231f20" stroke="#231f20" stroke-width="0.2" textLength="26.11" lengthAdjust="spacingAndGlyphs">H2AFZ</text>
<rect x="463.40" y="118.20" width="37.10" height="3.40" fill="#10508a"/>
<line x1="387.00" y1="119.90" x2="390.50" y2="119.90" stroke="#3c3c3c" stroke-width="1"/>
<text x="384.00" y="122.90" font-size="8.5" text-anchor="end" font-weight="normal" fill="#231f20" stroke="#231f20" stroke-width="0.2" textLength="24.28" lengthAdjust="spacingAndGlyphs">MCM5</text>
<rect x="463.00" y="126.24" width="37.50" height="3.40" fill="#10508a"/>
<line x1="387.00" y1="127.94" x2="390.50" y2="127.94" stroke="#3c3c3c" stroke-width="1"/>
<text x="384.00" y="130.94" font-size="8.5" text-anchor="end" font-weight="normal" fill="#231f20" stroke="#231f20" stroke-width="0.2" textLength="31.16" lengthAdjust="spacingAndGlyphs">TXNL4A</text>
<rect x="462.40" y="134.28" width="38.10" height="3.40" fill="#10508a"/>
<line x1="387.00" y1="135.98" x2="390.50" y2="135.98" stroke="#3c3c3c" stroke-width="1"/>
<text x="384.00" y="138.98" font-size="8.5" text-anchor="end" font-weight="normal" fill="#231f20" stroke="#231f20" stroke-width="0.2" textLength="38.03" lengthAdjust="spacingAndGlyphs">NDUFAB1</text>
<rect x="462.20" y="142.32" width="38.30" height="3.40" fill="#10508a"/>
<line x1="387.00" y1="144.02" x2="390.50" y2="144.02" stroke="#3c3c3c" stroke-width="1"/>
<text x="384.00" y="147.02" font-size="8.5" text-anchor="end" font-weight="normal" fill="#231f20" stroke="#231f20" stroke-width="0.2" textLength="17.41" lengthAdjust="spacingAndGlyphs">ERH</text>
<rect x="462.20" y="150.36" width="38.30" height="3.40" fill="#10508a"/>
<line x1="387.00" y1="152.06" x2="390.50" y2="152.06" stroke="#3c3c3c" stroke-width="1"/>
<text x="384.00" y="155.06" font-size="8.5" text-anchor="end" font-weight="normal" fill="#231f20" stroke="#231f20" stroke-width="0.2" textLength="26.58" lengthAdjust="spacingAndGlyphs">SRSF7</text>
<rect x="462.20" y="158.40" width="38.30" height="3.40" fill="#10508a"/>
<line x1="387.00" y1="160.10" x2="390.50" y2="160.10" stroke="#3c3c3c" stroke-width="1"/>
<text x="384.00" y="163.10" font-size="8.5" text-anchor="end" font-weight="normal" fill="#231f20" stroke="#231f20" stroke-width="0.2" textLength="24.28" lengthAdjust="spacingAndGlyphs">MCM2</text>
<path d="M346.70,159.05 L352.30,159.05 L350.90,157.40 L356.70,160.10 L350.90,162.80 L352.30,161.15 L346.70,161.15 Z" fill="#164a82"/>
<rect x="460.20" y="166.44" width="40.30" height="3.40" fill="#10508a"/>
<line x1="387.00" y1="168.14" x2="390.50" y2="168.14" stroke="#3c3c3c" stroke-width="1"/>
<text x="384.00" y="171.14" font-size="8.5" text-anchor="end" font-weight="normal" fill="#231f20" stroke="#231f20" stroke-width="0.2" textLength="22.90" lengthAdjust="spacingAndGlyphs">TYMS</text>
<rect x="459.30" y="174.48" width="41.20" height="3.40" fill="#10508a"/>
<line x1="387.00" y1="176.18" x2="390.50" y2="176.18" stroke="#3c3c3c" stroke-width="1"/>
<text x="384.00" y="179.18" font-size="8.5" text-anchor="end" font-weight="normal" fill="#231f20" stroke="#231f20" stroke-width="0.2" textLength="28.41" lengthAdjust="spacingAndGlyphs">PSMD1</text>
<rect x="459.00" y="182.52" width="41.50" height="3.40" fill="#10508a"/>
<line x1="387.00" y1="184.22" x2="390.50" y2="184.22" stroke="#3c3c3c" stroke-width="1"/>
<text x="384.00" y="187.22" font-size="8.5" text-anchor="end" font-weight="normal" fill="#231f20" stroke="#231f20" stroke-width="0.2" textLength="27.03" lengthAdjust="spacingAndGlyphs">CDC45</text>
<rect x="458.60" y="190.56" width="41.90" height="3.40" fill="#10508a"/>
<line x1="387.00" y1="192.26" x2="390.50" y2="192.26" stroke="#3c3c3c" stroke-width="1"/>
<text x="384.00" y="195.26" font-size="8.5" text-anchor="end" font-weight="normal" fill="#231f20" stroke="#231f20" stroke-width="0.2" textLength="26.12" lengthAdjust="spacingAndGlyphs">RPS10</text>
<rect x="458.10" y="198.60" width="42.40" height="3.40" fill="#10508a"/>
<line x1="387.00" y1="200.30" x2="390.50" y2="200.30" stroke="#3c3c3c" stroke-width="1"/>
<text x="384.00" y="203.30" font-size="8.5" text-anchor="end" font-weight="normal" fill="#231f20" stroke="#231f20" stroke-width="0.2" textLength="27.04" lengthAdjust="spacingAndGlyphs">HSPE1</text>
<rect x="455.90" y="206.64" width="44.60" height="3.40" fill="#10508a"/>
<line x1="387.00" y1="208.34" x2="390.50" y2="208.34" stroke="#3c3c3c" stroke-width="1"/>
<text x="384.00" y="211.34" font-size="8.5" text-anchor="end" font-weight="normal" fill="#231f20" stroke="#231f20" stroke-width="0.2" textLength="24.28" lengthAdjust="spacingAndGlyphs">MCM6</text>
<path d="M346.20,207.29 L351.80,207.29 L350.40,205.64 L356.20,208.34 L350.40,211.04 L351.80,209.39 L346.20,209.39 Z" fill="#164a82"/>
<rect x="450.00" y="214.68" width="50.50" height="3.40" fill="#10508a"/>
<line x1="387.00" y1="216.38" x2="390.50" y2="216.38" stroke="#3c3c3c" stroke-width="1"/>
<text x="384.00" y="219.38" font-size="8.5" text-anchor="end" font-weight="normal" fill="#231f20" stroke="#231f20" stroke-width="0.2" textLength="29.32" lengthAdjust="spacingAndGlyphs">SNRPG</text>
<rect x="444.80" y="222.72" width="55.70" height="3.40" fill="#10508a"/>
<line x1="387.00" y1="224.42" x2="390.50" y2="224.42" stroke="#3c3c3c" stroke-width="1"/>
<text x="384.00" y="227.42" font-size="8.5" text-anchor="end" font-weight="normal" fill="#231f20" stroke="#231f20" stroke-width="0.2" textLength="22.91" lengthAdjust="spacingAndGlyphs">PCNA</text>
<path d="M347.70,223.37 L353.30,223.37 L351.90,221.72 L357.70,224.42 L351.90,227.12 L353.30,225.47 L347.70,225.47 Z" fill="#164a82"/>
<rect x="415.10" y="230.76" width="85.40" height="3.40" fill="#10508a"/>
<line x1="387.00" y1="232.46" x2="390.50" y2="232.46" stroke="#3c3c3c" stroke-width="1"/>
<text x="384.00" y="235.46" font-size="8.5" text-anchor="end" font-weight="normal" fill="#231f20" stroke="#231f20" stroke-width="0.2" textLength="32.54" lengthAdjust="spacingAndGlyphs">MAP3K6</text>
<path d="M336.80,231.41 L342.40,231.41 L341.00,229.76 L346.80,232.46 L341.00,235.16 L342.40,233.51 L336.80,233.51 Z" fill="#164a82"/>
<line x1="390.50" y1="34.00" x2="390.50" y2="238.00" stroke="#3c3c3c" stroke-width="1"/>
<line x1="390.00" y1="237.80" x2="501.00" y2="237.80" stroke="#3c3c3c" stroke-width="1"/>
<line x1="500.50" y1="34.00" x2="500.50" y2="241.00" stroke="#222" stroke-width="1"/>
<line x1="390.50" y1="237.80" x2="390.50" y2="241.00" stroke="#3c3c3c" stroke-width="1"/>
<text x="390.50" y="250.20" font-size="8.5" text-anchor="middle" font-weight="normal" fill="#231f20" stroke="#231f20" stroke-width="0.2" textLength="15.94" lengthAdjust="spacingAndGlyphs">&#8722;2.5</text>
<line x1="412.50" y1="237.80" x2="412.50" y2="241.00" stroke="#3c3c3c" stroke-width="1"/>
<text x="412.50" y="250.20" font-size="8.5" text-anchor="middle" font-weight="normal" fill="#231f20" stroke="#231f20" stroke-width="0.2" textLength="15.94" lengthAdjust="spacingAndGlyphs">&#8722;2.0</text>
<line x1="434.50" y1="237.80" x2="434.50" y2="241.00" stroke="#3c3c3c" stroke-width="1"/>
<text x="434.50" y="250.20" font-size="8.5" text-anchor="middle" font-weight="normal" fill="#231f20" stroke="#231f20" stroke-width="0.2" textLength="15.94" lengthAdjust="spacingAndGlyphs">&#8722;1.5</text>
<line x1="456.50" y1="237.80" x2="456.50" y2="241.00" stroke="#3c3c3c" stroke-width="1"/>
<text x="456.50" y="250.20" font-size="8.5" text-anchor="middle" font-weight="normal" fill="#231f20" stroke="#231f20" stroke-width="0.2" textLength="15.94" lengthAdjust="spacingAndGlyphs">&#8722;1.0</text>
<line x1="478.50" y1="237.80" x2="478.50" y2="241.00" stroke="#3c3c3c" stroke-width="1"/>
<text x="478.50" y="250.20" font-size="8.5" text-anchor="middle" font-weight="normal" fill="#231f20" stroke="#231f20" stroke-width="0.2" textLength="15.94" lengthAdjust="spacingAndGlyphs">&#8722;0.5</text>
<line x1="500.50" y1="237.80" x2="500.50" y2="241.00" stroke="#3c3c3c" stroke-width="1"/>
<text x="500.50" y="250.20" font-size="8.5" text-anchor="middle" font-weight="normal" fill="#231f20" stroke="#231f20" stroke-width="0.2" textLength="11.23" lengthAdjust="spacingAndGlyphs">0.0</text>
<text x="445.30" y="260.80" font-size="9.2" text-anchor="middle" font-weight="normal" fill="#231f20" stroke="#231f20" stroke-width="0.2" textLength="89.10" lengthAdjust="spacingAndGlyphs">Log2 fold-change in mRNA</text>
<text x="445.40" y="271.90" font-size="9.2" text-anchor="middle" font-weight="normal" fill="#231f20" stroke="#231f20" stroke-width="0.2" textLength="103.80" lengthAdjust="spacingAndGlyphs">expression (mtRunx1/parental)</text>
<text x="5.60" y="296.80" font-size="12.3" text-anchor="start" font-weight="bold" fill="#000" stroke="#000" stroke-width="0.3">C</text>
<text x="71.90" y="303.50" font-size="9.8" text-anchor="start" font-weight="normal" fill="#231f20" stroke="#231f20" stroke-width="0.2" textLength="62.90" lengthAdjust="spacingAndGlyphs">GO: Ribosome</text>
<rect x="126.70" y="315.75" width="31.70" height="5.90" fill="#10508a"/>
<line x1="57.60" y1="318.70" x2="61.10" y2="318.70" stroke="#3c3c3c" stroke-width="1"/>
<text x="55.40" y="321.70" font-size="8.5" text-anchor="end" font-weight="normal" fill="#231f20" stroke="#231f20" stroke-width="0.2" textLength="24.17" lengthAdjust="spacingAndGlyphs">RPL39</text>
<rect x="125.00" y="327.64" width="33.40" height="5.90" fill="#10508a"/>
<line x1="57.60" y1="330.59" x2="61.10" y2="330.59" stroke="#3c3c3c" stroke-width="1"/>
<text x="55.40" y="333.59" font-size="8.5" text-anchor="end" font-weight="normal" fill="#231f20" stroke="#231f20" stroke-width="0.2" textLength="26.79" lengthAdjust="spacingAndGlyphs">MCTS1</text>
<rect x="122.40" y="339.53" width="36.00" height="5.90" fill="#10508a"/>
<line x1="57.60" y1="342.48" x2="61.10" y2="342.48" stroke="#3c3c3c" stroke-width="1"/>
<text x="55.40" y="345.48" font-size="8.5" text-anchor="end" font-weight="normal" fill="#231f20" stroke="#231f20" stroke-width="0.2" textLength="29.73" lengthAdjust="spacingAndGlyphs">HSPA14</text>
<rect x="118.90" y="351.42" width="39.50" height="5.90" fill="#10508a"/>
<line x1="57.60" y1="354.37" x2="61.10" y2="354.37" stroke="#3c3c3c" stroke-width="1"/>
<text x="55.40" y="357.37" font-size="8.5" text-anchor="end" font-weight="normal" fill="#231f20" stroke="#231f20" stroke-width="0.2" textLength="20.65" lengthAdjust="spacingAndGlyphs">RPS5</text>
<rect x="110.90" y="363.31" width="47.50" height="5.90" fill="#10508a"/>
<line x1="57.60" y1="366.26" x2="61.10" y2="366.26" stroke="#3c3c3c" stroke-width="1"/>
<text x="55.40" y="369.26" font-size="8.5" text-anchor="end" font-weight="normal" fill="#231f20" stroke="#231f20" stroke-width="0.2" textLength="21.53" lengthAdjust="spacingAndGlyphs">RPSA</text>
<rect x="109.70" y="375.20" width="48.70" height="5.90" fill="#10508a"/>
<line x1="57.60" y1="378.15" x2="61.10" y2="378.15" stroke="#3c3c3c" stroke-width="1"/>
<text x="55.40" y="381.15" font-size="8.5" text-anchor="end" font-weight="normal" fill="#231f20" stroke="#231f20" stroke-width="0.2" textLength="29.44" lengthAdjust="spacingAndGlyphs">RPL36A</text>
<rect x="108.50" y="387.09" width="49.90" height="5.90" fill="#10508a"/>
<line x1="57.60" y1="390.04" x2="61.10" y2="390.04" stroke="#3c3c3c" stroke-width="1"/>
<text x="55.40" y="393.04" font-size="8.5" text-anchor="end" font-weight="normal" fill="#231f20" stroke="#231f20" stroke-width="0.2" textLength="25.05" lengthAdjust="spacingAndGlyphs">NAA10</text>
<rect x="106.00" y="398.98" width="52.40" height="5.90" fill="#10508a"/>
<line x1="57.60" y1="401.93" x2="61.10" y2="401.93" stroke="#3c3c3c" stroke-width="1"/>
<text x="55.40" y="404.93" font-size="8.5" text-anchor="end" font-weight="normal" fill="#231f20" stroke="#231f20" stroke-width="0.2" textLength="20.65" lengthAdjust="spacingAndGlyphs">RPS7</text>
<rect x="99.30" y="410.87" width="59.10" height="5.90" fill="#10508a"/>
<line x1="57.60" y1="413.82" x2="61.10" y2="413.82" stroke="#3c3c3c" stroke-width="1"/>
<text x="55.40" y="416.82" font-size="8.5" text-anchor="end" font-weight="normal" fill="#231f20" stroke="#231f20" stroke-width="0.2" textLength="25.05" lengthAdjust="spacingAndGlyphs">RPS21</text>
<rect x="76.00" y="422.76" width="82.40" height="5.90" fill="#10508a"/>
<line x1="57.60" y1="425.71" x2="61.10" y2="425.71" stroke="#3c3c3c" stroke-width="1"/>
<text x="55.40" y="428.71" font-size="8.5" text-anchor="end" font-weight="normal" fill="#231f20" stroke="#231f20" stroke-width="0.2" textLength="32.96" lengthAdjust="spacingAndGlyphs">RPL26L1</text>
<rect x="65.00" y="434.65" width="93.40" height="5.90" fill="#10508a"/>
<line x1="57.60" y1="437.60" x2="61.10" y2="437.60" stroke="#3c3c3c" stroke-width="1"/>
<text x="55.40" y="440.60" font-size="8.5" text-anchor="end" font-weight="normal" fill="#231f20" stroke="#231f20" stroke-width="0.2" textLength="25.05" lengthAdjust="spacingAndGlyphs">RPS10</text>
<line x1="61.10" y1="310.20" x2="61.10" y2="446.00" stroke="#3c3c3c" stroke-width="1"/>
<line x1="60.60" y1="445.50" x2="158.90" y2="445.50" stroke="#3c3c3c" stroke-width="1"/>
<line x1="158.40" y1="310.20" x2="158.40" y2="448.60" stroke="#222" stroke-width="1"/>
<line x1="61.10" y1="445.50" x2="61.10" y2="448.60" stroke="#3c3c3c" stroke-width="1"/>
<text x="60.50" y="457.00" font-size="8.5" text-anchor="middle" font-weight="normal" fill="#231f20" stroke="#231f20" stroke-width="0.2" textLength="16.28" lengthAdjust="spacingAndGlyphs">&#8722;1.0</text>
<line x1="80.56" y1="445.50" x2="80.56" y2="448.60" stroke="#3c3c3c" stroke-width="1"/>
<text x="79.96" y="457.00" font-size="8.5" text-anchor="middle" font-weight="normal" fill="#231f20" stroke="#231f20" stroke-width="0.2" textLength="16.28" lengthAdjust="spacingAndGlyphs">&#8722;0.8</text>
<line x1="100.02" y1="445.50" x2="100.02" y2="448.60" stroke="#3c3c3c" stroke-width="1"/>
<text x="99.42" y="457.00" font-size="8.5" text-anchor="middle" font-weight="normal" fill="#231f20" stroke="#231f20" stroke-width="0.2" textLength="16.28" lengthAdjust="spacingAndGlyphs">&#8722;0.6</text>
<line x1="119.48" y1="445.50" x2="119.48" y2="448.60" stroke="#3c3c3c" stroke-width="1"/>
<text x="118.88" y="457.00" font-size="8.5" text-anchor="middle" font-weight="normal" fill="#231f20" stroke="#231f20" stroke-width="0.2" textLength="16.28" lengthAdjust="spacingAndGlyphs">&#8722;0.4</text>
<line x1="138.94" y1="445.50" x2="138.94" y2="448.60" stroke="#3c3c3c" stroke-width="1"/>
<text x="138.34" y="457.00" font-size="8.5" text-anchor="middle" font-weight="normal" fill="#231f20" stroke="#231f20" stroke-width="0.2" textLength="16.28" lengthAdjust="spacingAndGlyphs">&#8722;0.2</text>
<line x1="158.40" y1="445.50" x2="158.40" y2="448.60" stroke="#3c3c3c" stroke-width="1"/>
<text x="157.80" y="457.00" font-size="8.5" text-anchor="middle" font-weight="normal" fill="#231f20" stroke="#231f20" stroke-width="0.2" textLength="11.46" lengthAdjust="spacingAndGlyphs">0.0</text>
<text x="110.00" y="469.00" font-size="9.2" text-anchor="middle" font-weight="normal" fill="#231f20" stroke="#231f20" stroke-width="0.2" textLength="88.80" lengthAdjust="spacingAndGlyphs">Log2 fold-change in mRNA</text>
<text x="110.00" y="479.80" font-size="9.2" text-anchor="middle" font-weight="normal" fill="#231f20" stroke="#231f20" stroke-width="0.2" textLength="103.40" lengthAdjust="spacingAndGlyphs">expression (mtRunx1/parental)</text>
<text x="264.60" y="296.70" font-size="12.3" text-anchor="start" font-weight="bold" fill="#000" stroke="#000" stroke-width="0.3">D</text>
<text x="379.00" y="313.60" font-size="9.2" text-anchor="start" font-weight="normal" fill="#231f20" stroke="#231f20" stroke-width="0.2" textLength="133.00" lengthAdjust="spacingAndGlyphs">GO: Ribosome/tRNA pathways</text>
<rect x="449.50" y="328.80" width="44.60" height="4.40" fill="#10508a"/>
<line x1="394.20" y1="331.00" x2="397.50" y2="331.00" stroke="#3c3c3c" stroke-width="1"/>
<text x="389.90" y="333.75" font-size="8.7" text-anchor="end" font-weight="normal" fill="#231f20" stroke="#231f20" stroke-width="0.2" textLength="106.40" lengthAdjust="spacingAndGlyphs">GO_TRNA_MODIFICATION</text>
<rect x="440.60" y="337.98" width="53.50" height="4.40" fill="#10508a"/>
<line x1="394.20" y1="340.18" x2="397.50" y2="340.18" stroke="#3c3c3c" stroke-width="1"/>
<text x="389.90" y="342.93" font-size="8.7" text-anchor="end" font-weight="normal" fill="#231f20" stroke="#231f20" stroke-width="0.2" textLength="96.80" lengthAdjust="spacingAndGlyphs">GO_TRNA_PROCESSING</text>
<rect x="438.20" y="347.16" width="55.90" height="4.40" fill="#10508a"/>
<line x1="394.20" y1="349.36" x2="397.50" y2="349.36" stroke="#3c3c3c" stroke-width="1"/>
<text x="389.90" y="352.11" font-size="8.7" text-anchor="end" font-weight="normal" fill="#231f20" stroke="#231f20" stroke-width="0.2" textLength="136.00" lengthAdjust="spacingAndGlyphs">GO_MATURATION_OF_SSU_RRNA</text>
<rect x="437.10" y="356.34" width="57.00" height="4.40" fill="#10508a"/>
<line x1="394.20" y1="358.54" x2="397.50" y2="358.54" stroke="#3c3c3c" stroke-width="1"/>
<text x="389.90" y="361.29" font-size="8.7" text-anchor="end" font-weight="normal" fill="#231f20" stroke="#231f20" stroke-width="0.2" textLength="108.30" lengthAdjust="spacingAndGlyphs">GO_RIBOSOME_ASSEMBLY</text>
<rect x="430.60" y="365.52" width="63.50" height="4.40" fill="#10508a"/>
<line x1="394.20" y1="367.72" x2="397.50" y2="367.72" stroke="#3c3c3c" stroke-width="1"/>
<text x="389.90" y="370.47" font-size="8.7" text-anchor="end" font-weight="normal" fill="#231f20" stroke="#231f20" stroke-width="0.2" textLength="137.40" lengthAdjust="spacingAndGlyphs">GO_LARGE_RIBOSOMAL_SUBUNIT</text>
<rect x="429.50" y="374.70" width="64.60" height="4.40" fill="#10508a"/>
<line x1="394.20" y1="376.90" x2="397.50" y2="376.90" stroke="#3c3c3c" stroke-width="1"/>
<text x="389.90" y="379.65" font-size="8.7" text-anchor="end" font-weight="normal" fill="#231f20" stroke="#231f20" stroke-width="0.2" textLength="191.30" lengthAdjust="spacingAndGlyphs">GO_RIBOSOMAL_SMALL_SUBUNIT_BIOGENESIS</text>
<rect x="427.70" y="383.88" width="66.40" height="4.40" fill="#10508a"/>
<line x1="394.20" y1="386.08" x2="397.50" y2="386.08" stroke="#3c3c3c" stroke-width="1"/>
<text x="389.90" y="388.83" font-size="8.7" text-anchor="end" font-weight="normal" fill="#231f20" stroke="#231f20" stroke-width="0.2" textLength="76.70" lengthAdjust="spacingAndGlyphs">GO_PRERIBOSOME</text>
<rect x="427.10" y="393.06" width="67.00" height="4.40" fill="#10508a"/>
<line x1="394.20" y1="395.26" x2="397.50" y2="395.26" stroke="#3c3c3c" stroke-width="1"/>
<text x="389.90" y="398.01" font-size="8.7" text-anchor="end" font-weight="normal" fill="#231f20" stroke="#231f20" stroke-width="0.2" textLength="115.30" lengthAdjust="spacingAndGlyphs">GO_RIBOSOME_BIOGENESIS</text>
<rect x="425.80" y="402.24" width="68.30" height="4.40" fill="#10508a"/>
<line x1="394.20" y1="404.44" x2="397.50" y2="404.44" stroke="#3c3c3c" stroke-width="1"/>
<text x="389.90" y="407.19" font-size="8.7" text-anchor="end" font-weight="normal" fill="#231f20" stroke="#231f20" stroke-width="0.2" textLength="61.30" lengthAdjust="spacingAndGlyphs">GO_RIBOSOME</text>
<rect x="425.20" y="411.42" width="68.90" height="4.40" fill="#10508a"/>
<line x1="394.20" y1="413.62" x2="397.50" y2="413.62" stroke="#3c3c3c" stroke-width="1"/>
<text x="389.90" y="416.37" font-size="8.7" text-anchor="end" font-weight="normal" fill="#231f20" stroke="#231f20" stroke-width="0.2" textLength="139.50" lengthAdjust="spacingAndGlyphs">GO_MATURATION_OF_5_8S_RRNA</text>
<rect x="412.80" y="420.60" width="81.30" height="4.40" fill="#10508a"/>
<line x1="394.20" y1="422.80" x2="397.50" y2="422.80" stroke="#3c3c3c" stroke-width="1"/>
<text x="389.90" y="425.55" font-size="8.7" text-anchor="end" font-weight="normal" fill="#231f20" stroke="#231f20" stroke-width="0.2" textLength="106.70" lengthAdjust="spacingAndGlyphs">GO_RIBOSOMAL_SUBUNIT</text>
<rect x="411.00" y="429.78" width="83.10" height="4.40" fill="#10508a"/>
<line x1="394.20" y1="431.98" x2="397.50" y2="431.98" stroke="#3c3c3c" stroke-width="1"/>
<text x="389.90" y="434.73" font-size="8.7" text-anchor="end" font-weight="normal" fill="#231f20" stroke="#231f20" stroke-width="0.2" textLength="137.40" lengthAdjust="spacingAndGlyphs">GO_SMALL_RIBOSOMAL_SUBUNIT</text>
<line x1="397.50" y1="324.20" x2="397.50" y2="438.80" stroke="#3c3c3c" stroke-width="1"/>
<line x1="397.00" y1="438.30" x2="494.60" y2="438.30" stroke="#3c3c3c" stroke-width="1"/>
<line x1="494.10" y1="324.20" x2="494.10" y2="441.50" stroke="#888" stroke-width="1"/>
<line x1="397.50" y1="438.30" x2="397.50" y2="441.50" stroke="#3c3c3c" stroke-width="1"/>
<text x="397.50" y="450.40" font-size="8.3" text-anchor="middle" font-weight="normal" fill="#231f20" stroke="#231f20" stroke-width="0.2" textLength="15.57" lengthAdjust="spacingAndGlyphs">&#8722;2.5</text>
<line x1="416.82" y1="438.30" x2="416.82" y2="441.50" stroke="#3c3c3c" stroke-width="1"/>
<text x="416.82" y="450.40" font-size="8.3" text-anchor="middle" font-weight="normal" fill="#231f20" stroke="#231f20" stroke-width="0.2" textLength="15.57" lengthAdjust="spacingAndGlyphs">&#8722;2.0</text>
<line x1="436.14" y1="438.30" x2="436.14" y2="441.50" stroke="#3c3c3c" stroke-width="1"/>
<text x="436.14" y="450.40" font-size="8.3" text-anchor="middle" font-weight="normal" fill="#231f20" stroke="#231f20" stroke-width="0.2" textLength="15.57" lengthAdjust="spacingAndGlyphs">&#8722;1.5</text>
<line x1="455.46" y1="438.30" x2="455.46" y2="441.50" stroke="#3c3c3c" stroke-width="1"/>
<text x="455.46" y="450.40" font-size="8.3" text-anchor="middle" font-weight="normal" fill="#231f20" stroke="#231f20" stroke-width="0.2" textLength="15.57" lengthAdjust="spacingAndGlyphs">&#8722;1.0</text>
<line x1="474.78" y1="438.30" x2="474.78" y2="441.50" stroke="#3c3c3c" stroke-width="1"/>
<text x="474.78" y="450.40" font-size="8.3" text-anchor="middle" font-weight="normal" fill="#231f20" stroke="#231f20" stroke-width="0.2" textLength="15.57" lengthAdjust="spacingAndGlyphs">&#8722;0.5</text>
<line x1="494.10" y1="438.30" x2="494.10" y2="441.50" stroke="#3c3c3c" stroke-width="1"/>
<text x="494.10" y="450.40" font-size="8.3" text-anchor="middle" font-weight="normal" fill="#231f20" stroke="#231f20" stroke-width="0.2" textLength="10.96" lengthAdjust="spacingAndGlyphs">0.0</text>
<text x="445.30" y="461.90" font-size="8.8" text-anchor="middle" font-weight="normal" fill="#231f20" stroke="#231f20" stroke-width="0.2" textLength="80.10" lengthAdjust="spacingAndGlyphs">NES (All q-values &lt; 0.1)</text>
<rect x="0.5" y="0.5" width="519" height="487" fill="none" stroke="#111" stroke-width="1"/>
</svg>
</body></html>
